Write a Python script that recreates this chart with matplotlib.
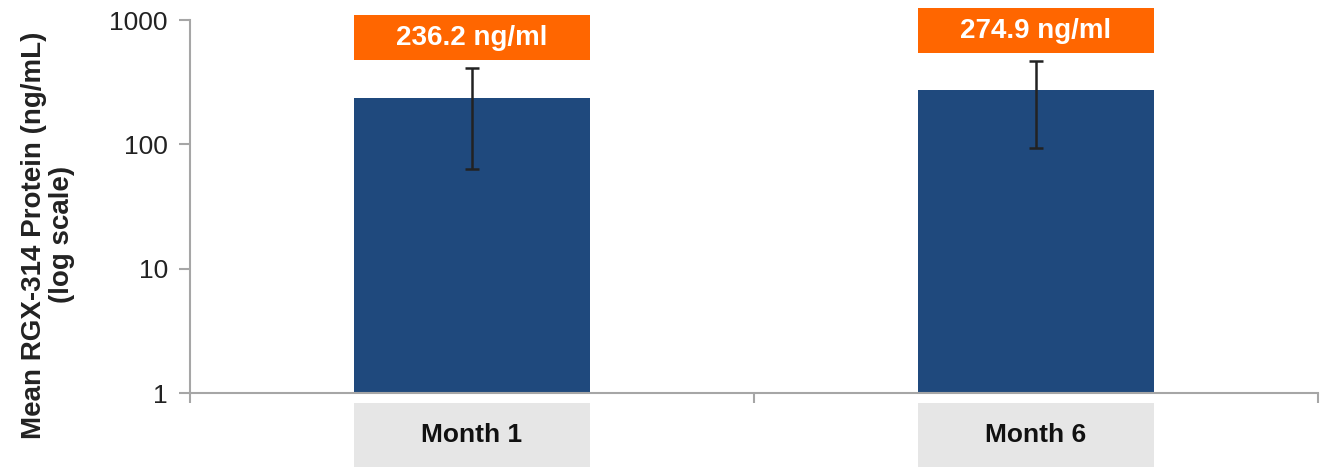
import numpy as np
import matplotlib
matplotlib.use("Agg")
import matplotlib.pyplot as plt
from matplotlib.patches import Rectangle
import matplotlib.transforms as mtransforms

# datos
categorias = ["Month 1", "Month 6"]
medias = [236.2, 274.9]
err_inf = [173, 181]
err_sup = [176, 194]
etiquetas = ["236.2 ng/ml", "274.9 ng/ml"]

plt.rcParams["font.family"] = ["Liberation Sans", "DejaVu Sans"]

fig = plt.figure(figsize=(13.29, 4.73), dpi=100)
ax = fig.add_axes([0.143, 0.169, 0.8487, 0.7887])

x = np.arange(len(categorias))
ancho = 0.417
ax.bar(x, medias, width=ancho, color="#1f497d", zorder=2)
ax.errorbar(x, medias, yerr=[err_inf, err_sup], fmt="none", ecolor="#222222",
            elinewidth=1.8, capsize=5, capthick=1.8, zorder=3)

ax.set_yscale("log")
ax.set_ylim(1, 1000)
ax.set_xlim(-0.5, len(categorias) - 0.5)
ax.set_yticks([1, 10, 100, 1000])
ax.set_yticklabels(["1", "10", "100", "1000"])
ax.minorticks_off()
ax.set_xticks(np.arange(len(categorias) + 1) - 0.5)
ax.set_xticklabels([])

for s in ["top", "right"]:
    ax.spines[s].set_visible(False)
for s in ["left", "bottom"]:
    ax.spines[s].set_color("#a6a6a6")
    ax.spines[s].set_linewidth(1.5)
ax.tick_params(axis="y", colors="#a6a6a6", length=8, width=1.5, labelsize=19, labelcolor="#222222", pad=8)
ax.tick_params(axis="x", colors="#a6a6a6", length=7, width=1.5)

ax.set_ylabel("Mean RGX-314 Protein (ng/mL)\n(log scale)", fontsize=20, fontweight="bold",
              color="#222222", linespacing=1.1)
ax.yaxis.set_label_coords(-0.102, 0.424)

# cajas naranjas con el valor
for xi, m, es, txt in zip(x, medias, err_sup, etiquetas):
    y0 = (m + es) * 1.15
    y1 = y0 * 2.3
    ax.add_patch(Rectangle((xi - ancho / 2, y0), ancho, y1 - y0, facecolor="#ff6600",
                           edgecolor="none", clip_on=False, zorder=4))
    ax.text(xi, np.sqrt(y0 * y1), txt, ha="center", va="center", color="white",
            fontsize=20, fontweight="bold", zorder=5, clip_on=False)

# cajas grises con la categoria
trans = mtransforms.blended_transform_factory(ax.transData, ax.transAxes)
for xi, cat in zip(x, categorias):
    ax.add_patch(Rectangle((xi - ancho / 2, -0.198), ancho, 0.171, transform=trans,
                           facecolor="#e6e6e6", edgecolor="none", clip_on=False))
    ax.text(xi, -0.112, cat, transform=trans, ha="center", va="center",
            fontsize=19, fontweight="bold", color="#111111")

fig.savefig("out.png", dpi=100)
